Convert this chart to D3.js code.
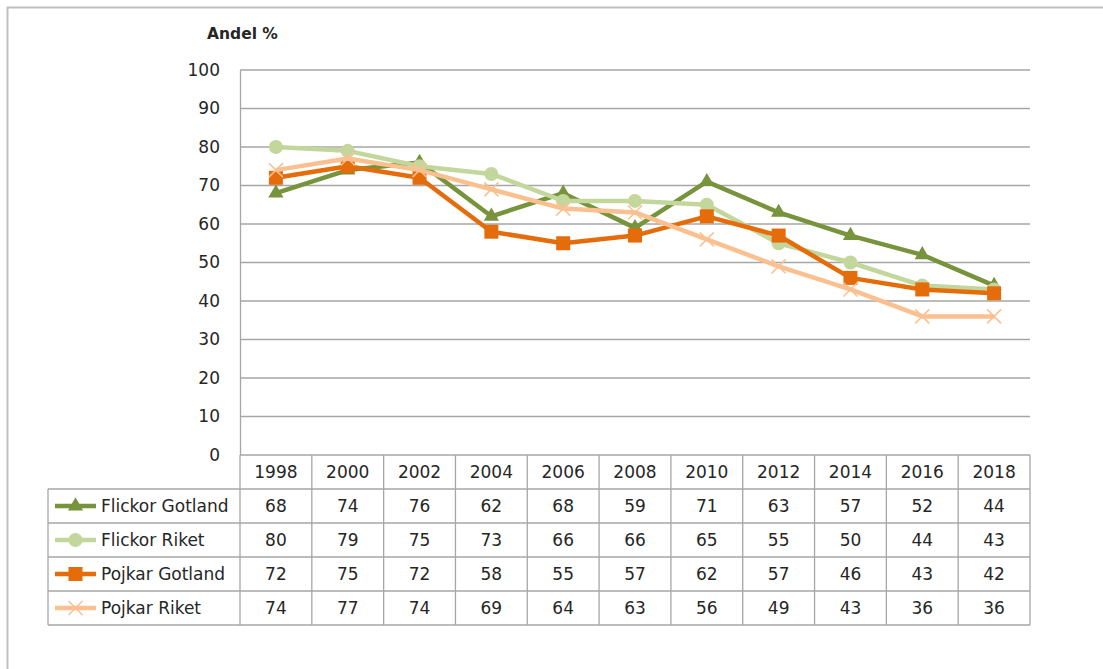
<!DOCTYPE html>
<html>
<head>
<meta charset="utf-8">
<script src="https://cdn.jsdelivr.net/npm/d3@7"></script>
<style>
  body { margin: 0; background: #fff; }
  svg { font-family: "DejaVu Sans", sans-serif; }
</style>
</head>
<body>
<svg width="1103" height="669"></svg>
<script>
// Data
const years = ["1998", "2000", "2002", "2004", "2006", "2008", "2010", "2012", "2014", "2016", "2018"];
const seriesNames = ["Flickor Gotland", "Flickor Riket", "Pojkar Gotland", "Pojkar Riket"];
const flickorGotland = [68, 74, 76, 62, 68, 59, 71, 63, 57, 52, 44];
const flickorRiket = [80, 79, 75, 73, 66, 66, 65, 55, 50, 44, 43];
const pojkarGotland = [72, 75, 72, 58, 55, 57, 62, 57, 46, 43, 42];
const pojkarRiket = [74, 77, 74, 69, 64, 63, 56, 49, 43, 36, 36];
const yTicks = [0, 10, 20, 30, 40, 50, 60, 70, 80, 90, 100];

const series = [
  {name: seriesNames[0], values: flickorGotland, color: "#77933c", marker: "triangle"},
  {name: seriesNames[1], values: flickorRiket, color: "#c3d69b", marker: "circle"},
  {name: seriesNames[2], values: pojkarGotland, color: "#e46c0a", marker: "square"},
  {name: seriesNames[3], values: pojkarRiket, color: "#fac090", marker: "x"}
];

const svg = d3.select("svg");
const grid = "#a6a6a6";
const plot = {left: 240, right: 1030, top: 70, bottom: 455};
const rowH = 34;
const tableLeft = 48;
const fontSize = 17;

// Outer frame
svg.append("rect")
    .attr("x", 7.5).attr("y", 7.5)
    .attr("width", 1110).attr("height", 700)
    .attr("fill", "none").attr("stroke", "#bfbfbf").attr("stroke-width", 2);

// Scales
const x = d3.scaleBand().domain(years).range([plot.left, plot.right]);
const y = d3.scaleLinear().domain([0, 100]).range([plot.bottom, plot.top]);

// Gridlines
svg.append("g").selectAll("line")
    .data(yTicks)
    .enter()
    .append("line")
    .attr("x1", plot.left).attr("x2", plot.right)
    .attr("y1", d => y(d)).attr("y2", d => y(d))
    .attr("stroke", grid).attr("stroke-width", 1.3);

// Y axis
const yAxis = svg.append("g")
    .attr("transform", `translate(${plot.left},0)`)
    .call(d3.axisLeft(y).tickValues(yTicks).tickSize(0).tickPadding(20));
yAxis.select(".domain").attr("stroke", grid).attr("stroke-width", 1.3);
yAxis.selectAll("text").attr("font-size", fontSize).attr("fill", "#262626")
    .attr("font-family", "'DejaVu Sans', sans-serif");

svg.append("text")
    .attr("x", 207).attr("y", 39)
    .attr("font-size", 15.5).attr("font-weight", "bold").attr("fill", "#262626")
    .text("Andel %");

// Lines
const line = d3.line()
    .x((d, i) => x(years[i]) + x.bandwidth() / 2)
    .y(d => y(d));

function drawMarker(g, type, color, cx, cy) {
  if (type === "triangle") {
    g.append("path")
        .attr("d", d3.symbol().type(d3.symbolTriangle).size(100)())
        .attr("transform", `translate(${cx},${cy})`)
        .attr("fill", color);
  } else if (type === "circle") {
    g.append("circle").attr("cx", cx).attr("cy", cy).attr("r", 7).attr("fill", color);
  } else if (type === "square") {
    g.append("rect").attr("x", cx - 7).attr("y", cy - 7)
        .attr("width", 14).attr("height", 14).attr("fill", color);
  } else {
    g.append("path")
        .attr("d", `M${cx - 7},${cy - 7}L${cx + 7},${cy + 7}M${cx - 7},${cy + 7}L${cx + 7},${cy - 7}`)
        .attr("stroke", color).attr("stroke-width", 1.5).attr("fill", "none");
  }
}

series.forEach(s => {
  const g = svg.append("g");
  g.append("path")
      .datum(s.values)
      .attr("d", line)
      .attr("fill", "none")
      .attr("stroke", s.color)
      .attr("stroke-width", 4.5)
      .attr("stroke-linejoin", "round");
  s.values.forEach((v, i) => {
    drawMarker(g, s.marker, s.color, x(years[i]) + x.bandwidth() / 2, y(v));
  });
});

// Data table
const table = svg.append("g").attr("font-size", fontSize).attr("fill", "#262626");
const tableBottom = plot.bottom + rowH * 5;
const border = "#a6a6a6";

// Year header
table.selectAll(".year")
    .data(years)
    .enter()
    .append("text")
    .attr("x", d => x(d) + x.bandwidth() / 2)
    .attr("y", plot.bottom + rowH / 2 + 6)
    .attr("text-anchor", "middle")
    .text(d => d);

// Vertical cell lines
const colEdges = years.map(d => x(d)).concat([plot.right]);
table.selectAll(".vline")
    .data(colEdges)
    .enter()
    .append("line")
    .attr("x1", d => d).attr("x2", d => d)
    .attr("y1", plot.bottom).attr("y2", tableBottom)
    .attr("stroke", border).attr("stroke-width", 1.3);

table.append("line")
    .attr("x1", tableLeft).attr("x2", tableLeft)
    .attr("y1", plot.bottom + rowH).attr("y2", tableBottom)
    .attr("stroke", border).attr("stroke-width", 1.3);

// Horizontal row lines
const rowEdges = d3.range(1, 6).map(i => plot.bottom + rowH * i);
table.selectAll(".hline")
    .data(rowEdges)
    .enter()
    .append("line")
    .attr("x1", tableLeft).attr("x2", plot.right)
    .attr("y1", d => d).attr("y2", d => d)
    .attr("stroke", border).attr("stroke-width", 1.3);

// Rows
series.forEach((s, r) => {
  const cy = plot.bottom + rowH * (r + 1) + rowH / 2;
  const lg = table.append("g");
  lg.append("line")
      .attr("x1", 55).attr("x2", 96)
      .attr("y1", cy).attr("y2", cy)
      .attr("stroke", s.color).attr("stroke-width", 4.5);
  drawMarker(lg, s.marker, s.color, 75.5, cy);
  table.append("text")
      .attr("x", 101).attr("y", cy + 6)
      .text(s.name);
  table.selectAll(null)
      .data(s.values)
      .enter()
      .append("text")
      .attr("x", (d, i) => x(years[i]) + x.bandwidth() / 2)
      .attr("y", cy + 6)
      .attr("text-anchor", "middle")
      .text(d => d);
});
</script>
</body>
</html>
